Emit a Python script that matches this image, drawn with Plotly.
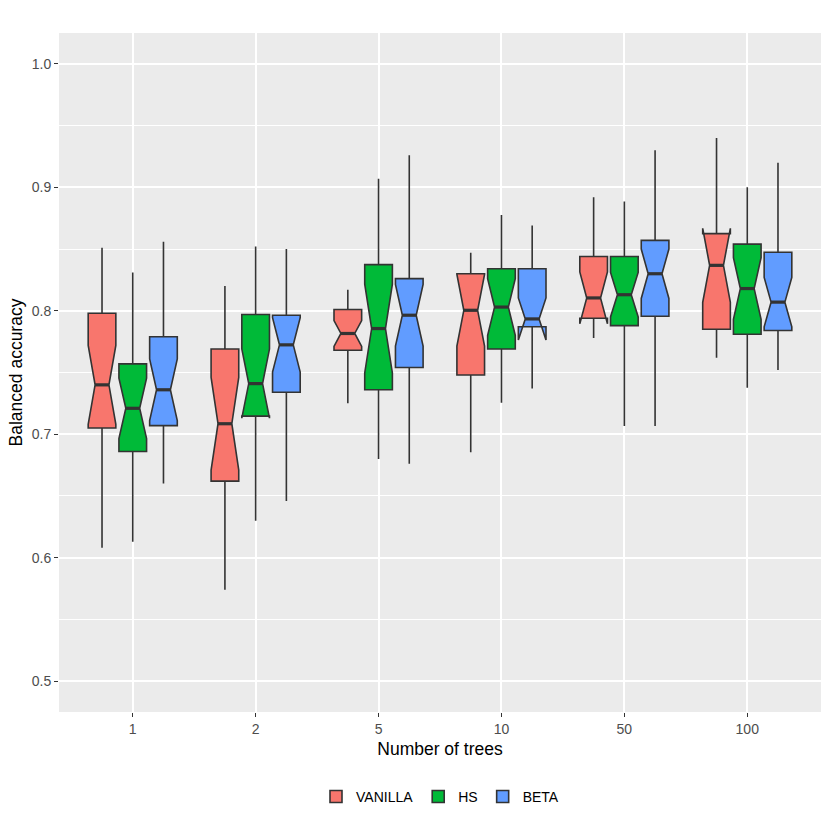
import plotly.graph_objects as go

categories = ["1", "2", "5", "10", "50", "100"]

vanilla_q1 = [0.705, 0.662, 0.768, 0.748, 0.794, 0.785]
vanilla_med = [0.740, 0.7085, 0.7816, 0.8004, 0.8104, 0.8368]
vanilla_q3 = [0.798, 0.769, 0.801, 0.830, 0.844, 0.8625]
vanilla_lo = [0.608, 0.574, 0.725, 0.6855, 0.778, 0.762]
vanilla_hi = [0.851, 0.820, 0.817, 0.847, 0.892, 0.940]
vanilla_notch = [0.032, 0.0375, 0.0105, 0.029, 0.021, 0.030]

hs_q1 = [0.686, 0.7147, 0.736, 0.769, 0.788, 0.781]
hs_med = [0.721, 0.741, 0.7856, 0.803, 0.813, 0.818]
hs_q3 = [0.757, 0.797, 0.8374, 0.834, 0.844, 0.854]
hs_lo = [0.613, 0.630, 0.680, 0.7255, 0.7066, 0.7376]
hs_hi = [0.831, 0.852, 0.907, 0.8776, 0.8886, 0.900]
hs_notch = [0.0245, 0.028, 0.036, 0.023, 0.018, 0.025]

beta_q1 = [0.707, 0.734, 0.754, 0.787, 0.7956, 0.784]
beta_med = [0.736, 0.7724, 0.7964, 0.7934, 0.830, 0.807]
beta_q3 = [0.779, 0.7964, 0.826, 0.834, 0.857, 0.8474]
beta_lo = [0.660, 0.646, 0.676, 0.737, 0.7066, 0.752]
beta_hi = [0.856, 0.850, 0.926, 0.869, 0.930, 0.920]
beta_notch = [0.025, 0.022, 0.025, 0.017, 0.020, 0.020]

series = [
    ("VANILLA", "#F8766D", vanilla_q1, vanilla_med, vanilla_q3, vanilla_lo, vanilla_hi, vanilla_notch),
    ("HS", "#00BA38", hs_q1, hs_med, hs_q3, hs_lo, hs_hi, hs_notch),
    ("BETA", "#619CFF", beta_q1, beta_med, beta_q3, beta_lo, beta_hi, beta_notch),
]

fig = go.Figure()
for name, color, q1, med, q3, lo, hi, notch in series:
    fig.add_trace(go.Box(
        name=name, x=categories, q1=q1, median=med, q3=q3,
        lowerfence=lo, upperfence=hi, notchspan=notch, notched=True,
        notchwidth=0.25, whiskerwidth=0, fillcolor=color,
        line=dict(color="#333333", width=1.6), boxpoints=False,
    ))

# thicker median segments (ggplot fatten), grouped on an overlaid category axis
for name, color, q1, med, q3, lo, hi, notch in series:
    fig.add_trace(go.Scatter(
        x=categories, y=med, mode="markers", showlegend=False, hoverinfo="skip",
        xaxis="x2", offsetgroup=name,
        marker=dict(symbol="line-ew", size=10, color="#333333",
                    line=dict(color="#333333", width=3.2)),
    ))

font = "Liberation Sans, Arial, sans-serif"
fig.update_layout(
    width=830, height=830,
    margin=dict(l=59, r=9, t=33, b=118),
    paper_bgcolor="white", plot_bgcolor="#EBEBEB",
    boxmode="group", boxgap=0.25, boxgroupgap=0.1,
    scattermode="group", scattergap=0.25,
    font=dict(family=font, size=14, color="#4D4D4D"),
    xaxis=dict(
        type="category", categoryorder="array", categoryarray=categories,
        range=[-0.6, 5.6], showgrid=True, gridcolor="white", gridwidth=1.8,
        ticks="outside", ticklen=4, tickcolor="#333333", tickwidth=1.2,
        tickfont=dict(size=14, color="#4D4D4D"), zeroline=False, automargin=False,
        title=dict(text="Number of trees", font=dict(size=17.5, color="black"), standoff=6),
    ),
    xaxis2=dict(
        type="category", categoryorder="array", categoryarray=categories,
        range=[-0.6, 5.6], overlaying="x", visible=False, automargin=False,
    ),
    yaxis=dict(
        range=[0.475, 1.025], tickvals=[0.5, 0.6, 0.7, 0.8, 0.9, 1.0],
        tickformat=".1f", showgrid=True, gridcolor="white", gridwidth=1.8,
        minor=dict(tickvals=[0.55, 0.65, 0.75, 0.85, 0.95], showgrid=True,
                   gridcolor="white", gridwidth=0.9),
        ticks="outside", ticklen=4, tickcolor="#333333", tickwidth=1.2,
        tickfont=dict(size=14, color="#4D4D4D"), zeroline=False, automargin=False,
        title=dict(text="Balanced accuracy", font=dict(size=17.5, color="black"), standoff=4),
    ),
    legend=dict(orientation="h", x=0.5, xanchor="center", y=-0.125, yanchor="middle",
                font=dict(size=14, color="black"), bgcolor="rgba(0,0,0,0)"),
)

fig.write_html("out.html", config={"displayModeBar": False},
               post_script="document.body.style.margin='0';")
